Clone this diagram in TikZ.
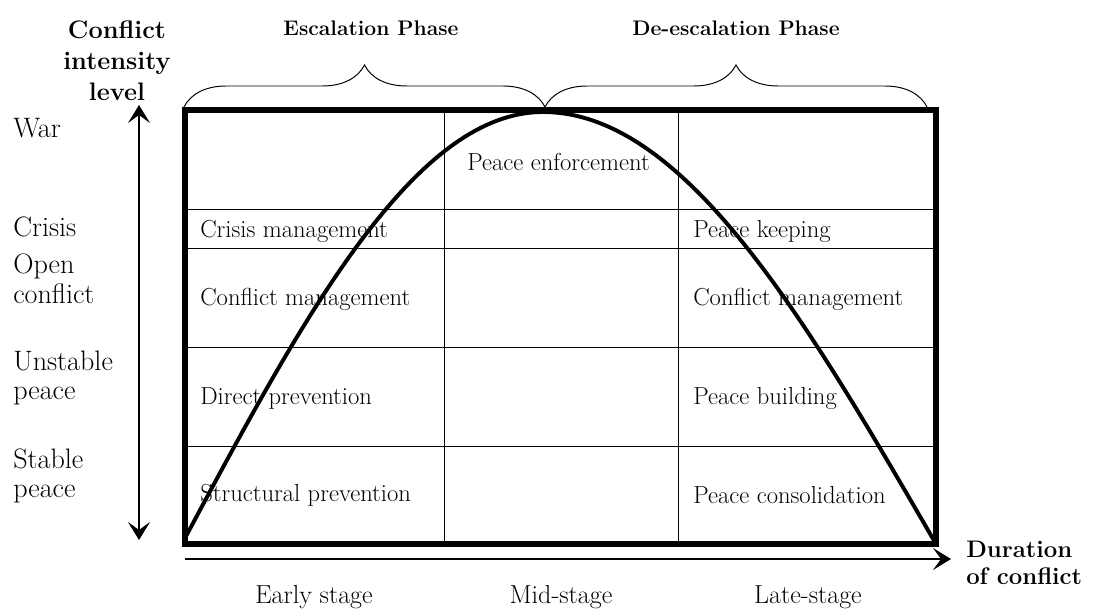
\documentclass[tikz,border=0pt]{standalone}
\usetikzlibrary{arrows.meta,decorations.pathreplacing}

\begin{document}
\begin{tikzpicture}[x=0.025cm, y=0.025cm,
		celltext/.style={anchor=west, inner sep=0pt, font=\fontsize{17.5}{20}\selectfont},
		leveltext/.style={anchor=west, align=left, inner sep=0pt, font=\fontsize{20}{21}\selectfont},
		stagetext/.style={anchor=base, inner sep=0pt, font=\fontsize{18.5}{21}\selectfont},
		headtext/.style={inner sep=0pt, align=center, font=\bfseries\fontsize{15}{18}\selectfont},
		arrowtip/.tip={Stealth[length=4.5mm, width=5.5mm, inset=2mm]}]
		%%%%% START %%%%%
		\useasboundingbox (0, 0) rectangle (1093, 608);
		
		% grid
		\draw[line width=0.7pt] (444, 64) -- (444, 498);
		\draw[line width=0.7pt] (678, 64) -- (678, 498);
		\draw[line width=0.7pt] (185, 399) -- (936, 399);
		\draw[line width=0.7pt] (185, 360) -- (936, 360);
		\draw[line width=0.7pt] (185, 261) -- (936, 261);
		\draw[line width=0.7pt] (185, 162) -- (936, 162);
		
		% cells
		\node[celltext] (enforce) at (467, 446) {Peace enforcement};
		\node[celltext] (crisismgmt) at (200, 377) {Crisis management};
		\node[celltext] (keeping) at (693, 377) {Peace keeping};
		\node[celltext] (conflictmgmtA) at (200, 309) {Conflict management};
		\node[celltext] (conflictmgmtB) at (693, 309) {Conflict management};
		\node[celltext] (direct) at (200, 210) {Direct prevention};
		\node[celltext] (building) at (693, 210) {Peace building};
		\node[celltext] (structural) at (200, 113) {Structural prevention};
		\node[celltext] (consolid) at (693, 113) {Peace consolidation};
		
		% curve
		\draw[line width=2.8pt] (184, 68) sin (543, 496) cos (936, 64);
		
		% frame
		\draw[line width=4.3pt] (185, 64) rectangle (936, 498);
		
		% axes
		\draw[line width=1.4pt, arrowtip-arrowtip] (139, 68) -- (139, 503);
		\draw[line width=1.4pt, -arrowtip] (185, 49) -- (951, 49);
		
		% braces
		\draw[line width=0.7pt, decorate, decoration={brace, amplitude=1.05cm}] (184, 501) -- (545, 501);
		\draw[line width=0.7pt, decorate, decoration={brace, amplitude=1.05cm}] (545, 501) -- (927, 501);
		
		% labels
		\node[headtext] (escal) at (371, 580) {Escalation Phase};
		\node[headtext] (deescal) at (736, 580) {De-escalation Phase};
		\node[headtext, font=\bfseries\fontsize{18}{22}\selectfont] (intensity) at (117, 547) {Conflict\\intensity\\level};
		
		\node[leveltext] (war) at (13, 480) {War};
		\node[leveltext] (crisis) at (13, 381) {Crisis};
		\node[leveltext] (open) at (13, 329) {Open\\conflict};
		\node[leveltext] (unstable) at (13, 230) {Unstable\\peace};
		\node[leveltext] (stable) at (13, 132) {Stable\\peace};
		
		\node[headtext, anchor=west, align=left, font=\bfseries\fontsize{17}{19}\selectfont] (duration) at (966, 45) {Duration\\of conflict};
		
		\node[stagetext] (early) at (314, 5) {Early stage};
		\node[stagetext] (mid) at (561, 5) {Mid-stage};
		\node[stagetext] (late) at (808, 5) {Late-stage};
		%%%%% END %%%%%
	\end{tikzpicture}
\end{document}
